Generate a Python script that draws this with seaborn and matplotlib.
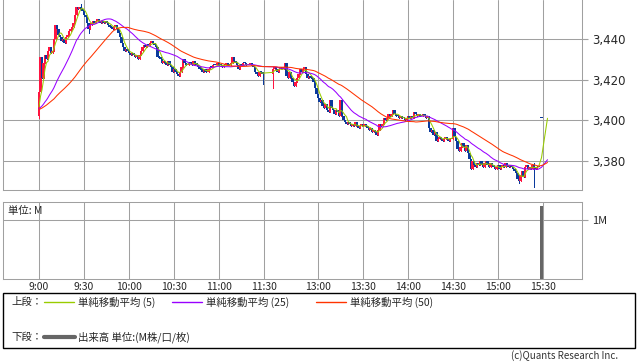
# --- Import Libraries ---
import numpy as np
import pandas as pd
import matplotlib
matplotlib.use("Agg")
import matplotlib.pyplot as plt
from matplotlib.lines import Line2D
from matplotlib.patches import Rectangle
import seaborn as sns

# --- Chart data (1-minute bars) ---
# previous session closes, only used to warm up the moving averages
prev_closes = [3405, 3404, 3405, 3406, 3405, 3404, 3404, 3405, 3406, 3406,
               3405, 3404, 3405, 3405, 3406, 3405, 3404, 3405, 3406, 3405,
               3405, 3404, 3405, 3406, 3405, 3405, 3404, 3405, 3405, 3406,
               3405, 3404, 3405, 3405, 3406, 3405, 3404, 3405, 3405, 3406,
               3405, 3405, 3404, 3405, 3406, 3405, 3405, 3404, 3405]

first_open = 3402

# 9:00 - 11:29
morning_closes = [3414, 3431, 3421, 3428, 3432, 3430, 3434, 3436, 3433, 3434,
                  3440, 3447, 3445, 3442, 3441, 3439, 3440, 3438, 3441, 3442,
                  3444, 3445, 3446, 3448, 3452, 3456, 3455, 3456, 3455, 3454,
                  3452, 3451, 3448, 3445, 3447, 3448, 3449, 3448, 3449, 3450,
                  3449, 3448, 3449, 3448, 3449, 3448, 3447, 3446, 3446, 3445,
                  3446, 3447, 3445, 3443, 3441, 3438, 3436, 3434, 3435, 3434,
                  3433, 3432, 3433, 3432, 3431, 3432, 3430, 3432, 3434, 3436,
                  3437, 3436, 3437, 3437, 3438, 3439, 3438, 3437, 3436, 3431,
                  3431, 3430, 3428, 3429, 3428, 3427, 3429, 3427, 3426, 3424,
                  3425, 3424, 3423, 3422, 3424, 3426, 3430, 3428, 3427, 3427,
                  3428, 3428, 3427, 3429, 3428, 3427, 3426, 3425, 3425, 3424,
                  3425, 3424, 3424, 3425, 3426, 3426, 3427, 3427, 3427, 3428,
                  3427, 3427, 3426, 3427, 3427, 3428, 3427, 3427, 3428, 3431,
                  3429, 3428, 3427, 3425, 3427, 3427, 3428, 3428, 3427, 3427,
                  3427, 3428, 3427, 3426, 3424, 3423, 3422, 3424, 3424, 3423]

# 12:30 onwards
afternoon_closes = [3425, 3426, 3425, 3424, 3425, 3426, 3425, 3426, 3428, 3422,
                    3421, 3424, 3421, 3419, 3417, 3419, 3421, 3423, 3425, 3424,
                    3425, 3426, 3423, 3421, 3422, 3421, 3421, 3419, 3416, 3413,
                    3411, 3409, 3410, 3407, 3406, 3408, 3405, 3404, 3410, 3406,
                    3405, 3403, 3405, 3404, 3402, 3410, 3402, 3400, 3399, 3398,
                    3399, 3398, 3397, 3398, 3397, 3399, 3397, 3396, 3397, 3398,
                    3397, 3398, 3397, 3396, 3395, 3396, 3394, 3395, 3394, 3393,
                    3395, 3398, 3397, 3398, 3401, 3400, 3401, 3403, 3402, 3403,
                    3405, 3403, 3402, 3402, 3401, 3402, 3401, 3401, 3400, 3401,
                    3402, 3401, 3402, 3401, 3404, 3403, 3402, 3403, 3402, 3402,
                    3403, 3402, 3401, 3402, 3396, 3394, 3395, 3393, 3394, 3390,
                    3391, 3392, 3391, 3390, 3391, 3392, 3391, 3390, 3391, 3391,
                    3396, 3392, 3390, 3386, 3385, 3387, 3389, 3387, 3385, 3388,
                    3384, 3381, 3376, 3380, 3378, 3377, 3379, 3378, 3380, 3378,
                    3377, 3379, 3380, 3378, 3377, 3379, 3378, 3377, 3376, 3377,
                    3378, 3376, 3377, 3378, 3377, 3379, 3378, 3377, 3378, 3377,
                    3376, 3375, 3374, 3371, 3370, 3373, 3375, 3372, 3377, 3378,
                    3376, 3377, 3376, 3378, 3377, 3376, 3377, 3377]

auction_price = 3401
after_auction = [3401, 3401, 3401, 3401]
auction_volume_m = 1.24

# long wicks, keyed by bar position
wick_lows = {0: 3401, 33: 3443, 149: 3418, 156: 3416, 320: 3369, 330: 3367}
wick_highs = {28: 3457, 330: 3379}

time_labels = ["9:00", "9:30", "10:00", "10:30", "11:00", "11:30",
               "13:00", "13:30", "14:00", "14:30", "15:00", "15:30"]
price_ticks = [3380, 3400, 3420, 3440]
ma_windows = [5, 25, 50]
ma_colors = ["#99cc00", "#9900ff", "#ff3300"]
up_color = "#ff1440"
down_color = "#0a3a9c"
grid_color = "#a0a0a0"


def minute_pos(hhmm):
    h, m = map(int, hhmm.split(":"))
    t = h * 60 + m
    if t < 12 * 60:
        return t - 9 * 60
    return 156 + t - (12 * 60 + 30)   # lunch break squeezed to a small gap


# --- Build bars ---
trade_pos = list(range(0, len(morning_closes))) + \
    list(range(156, 156 + len(afternoon_closes)))
trade_close = morning_closes + afternoon_closes
trade_open = [first_open] + trade_close[:-1]

auction_pos = trade_pos[-1] + 2
bars = pd.DataFrame({
    "pos": trade_pos + [auction_pos],
    "open": trade_open + [auction_price],
    "close": trade_close + [auction_price],
})
bars["high"] = bars[["open", "close"]].max(axis=1)
bars["low"] = bars[["open", "close"]].min(axis=1)
for p, v in wick_highs.items():
    bars.loc[bars["pos"] == p, "high"] = v
for p, v in wick_lows.items():
    bars.loc[bars["pos"] == p, "low"] = v

# --- Moving averages ---
all_close = pd.Series(prev_closes + trade_close + [auction_price] + after_auction, dtype=float)
ma_pos = bars["pos"].tolist() + list(range(auction_pos + 1, auction_pos + 1 + len(after_auction)))
ma_df = pd.DataFrame({"pos": ma_pos})
for w in ma_windows:
    ma_df[f"ma{w}"] = all_close.rolling(w).mean().iloc[len(prev_closes):].to_numpy()

# --- Figure ---
sns.set_style("white")
plt.rcParams["font.family"] = ["Noto Sans CJK JP", "DejaVu Sans"]

W, H = 638, 362
fig = plt.figure(figsize=(W / 100, H / 100), dpi=100)
xlim = (-24, 362)

ax = fig.add_axes([3 / W, 1 - 190 / H, 579 / W, 190 / H])
ax_v = fig.add_axes([3 / W, 1 - 279 / H, 579 / W, 77 / H])

tick_pos = [minute_pos(t) for t in time_labels]

for a in (ax, ax_v):
    a.set_xlim(*xlim)
    a.set_xticks(tick_pos)
    a.grid(True, color=grid_color, lw=0.75)
    a.set_axisbelow(True)
    for s in a.spines.values():
        s.set_color(grid_color)
        s.set_linewidth(0.75)
    a.yaxis.tick_right()
    a.tick_params(axis="y", length=4, color=grid_color, pad=3)
ax.spines["top"].set_visible(False)

# candles
up = bars["close"] > bars["open"]
colors = np.where(up, up_color, down_color)
ax.vlines(bars["pos"], bars["low"], bars["high"], colors=colors, lw=0.7,
          zorder=2, antialiased=False)
body = (bars["close"] - bars["open"]).abs().clip(lower=0.5)
ax.bar(bars["pos"], body, bottom=bars[["open", "close"]].min(axis=1),
       width=1.4, color=colors, linewidth=0, zorder=3, antialiased=False)

# moving averages
for w, c in zip(ma_windows, ma_colors):
    sns.lineplot(data=ma_df, x="pos", y=f"ma{w}", ax=ax, color=c, linewidth=0.75,
                 estimator=None, zorder=4)

ax.set_ylim(3365.7, 3459.2)
ax.set_yticks(price_ticks)
ax.set_yticklabels([f"{v:,}" for v in price_ticks], family="DejaVu Sans", fontsize=8.5)
ax.tick_params(axis="x", length=0, labelbottom=False)
ax.set_xlabel("")
ax.set_ylabel("")

# volume
ax_v.bar([auction_pos], [auction_volume_m], width=1.4, color="#666666", linewidth=0)
ax_v.set_ylim(0, 1.305)
ax_v.set_yticks([1])
ax_v.set_yticklabels(["1M"], fontsize=8)
ax_v.set_xticklabels(time_labels, fontsize=7.5)
ax_v.tick_params(axis="x", length=0, pad=2)
ax_v.set_xlabel("")
ax_v.set_ylabel("")
ax_v.text(0.008, 0.95, "単位: M", transform=ax_v.transAxes, fontsize=7.5, va="top", ha="left")

# --- Legend box (pixel coordinates) ---
lg = fig.add_axes([0, 0, 1, 1], zorder=-1)
lg.set_xlim(0, W)
lg.set_ylim(H, 0)
lg.axis("off")
lg.add_patch(Rectangle((3, 293), 632, 55, fill=False, ec="black", lw=1))
lg.text(11, 302, "上段：", fontsize=7.5, va="center")
names = ["単純移動平均 (5)", "単純移動平均 (25)", "単純移動平均 (50)"]
for x0, name, c in zip([44, 172, 316], names, ma_colors):
    lg.add_line(Line2D([x0, x0 + 30], [302, 302], color=c, lw=1))
    lg.text(x0 + 34, 302, name, fontsize=7.5, va="center")
lg.text(11, 337, "下段：", fontsize=7.5, va="center")
lg.add_line(Line2D([44, 75], [337, 337], color="#666666", lw=3))
lg.text(78, 337, "出来高 単位:(M株/口/枚)", fontsize=7.5, va="center")
lg.text(618, 356, "(c)Quants Research Inc.", fontsize=7, va="center", ha="right", color="#333333")

fig.savefig("out.png", dpi=100, facecolor="white")
